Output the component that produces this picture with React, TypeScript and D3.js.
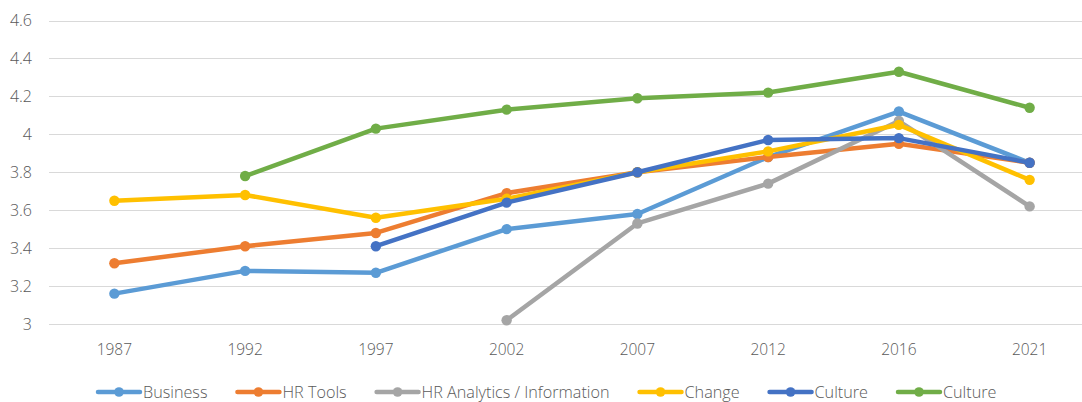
import React, { useRef, useEffect } from "react";
import * as d3 from "d3";

const years = ["1987", "1992", "1997", "2002", "2007", "2012", "2016", "2021"];
const yTicks = [3, 3.2, 3.4, 3.6, 3.8, 4, 4.2, 4.4, 4.6];

const business = [3.16, 3.28, 3.27, 3.5, 3.58, 3.88, 4.12, 3.85];
const hrTools = [3.32, 3.41, 3.48, 3.69, 3.8, 3.88, 3.95, 3.85];
const hrAnalytics = [null, null, null, 3.02, 3.53, 3.74, 4.07, 3.62];
const change = [3.65, 3.68, 3.56, 3.66, 3.8, 3.91, 4.05, 3.76];
const cultureBlue = [null, null, 3.41, 3.64, 3.8, 3.97, 3.98, 3.85];
const cultureGreen = [null, 3.78, 4.03, 4.13, 4.19, 4.22, 4.33, 4.14];

const seriesNames = ["Business", "HR Tools", "HR Analytics / Information", "Change", "Culture", "Culture"];
const seriesColors = ["#5B9BD5", "#ED7D31", "#A5A5A5", "#FFC000", "#4472C4", "#70AD47"];
const seriesValues = [business, hrTools, hrAnalytics, change, cultureBlue, cultureGreen];

const W = 1082;
const H = 402;

const App = () => {
  const svgRef = useRef<SVGSVGElement>(null);

  useEffect(() => {
    const svg = d3.select(svgRef.current);
    svg.selectAll("*").remove();
    const font = "'Open Sans', sans-serif";
    const textColor = "#595959";

    const x = d3.scaleBand().domain(years).range([49, 1095]);
    const y = d3.scaleLinear().domain([3, 4.6]).range([324, 20.5]);
    const cx = (d: string) => (x(d) as number) + x.bandwidth() / 2;

    // gridlines
    svg.append("g")
      .selectAll("line")
      .data(yTicks)
      .join("line")
      .attr("x1", 49)
      .attr("x2", W)
      .attr("y1", (d) => Math.round(y(d)) + 0.5)
      .attr("y2", (d) => Math.round(y(d)) + 0.5)
      .attr("stroke", "#d9d9d9")
      .attr("stroke-width", 1.2);

    // y labels
    svg.append("g")
      .selectAll("text")
      .data(yTicks)
      .join("text")
      .attr("x", 32)
      .attr("y", (d) => y(d) + 5.5)
      .attr("text-anchor", "end")
      .attr("font-family", font)
      .attr("font-weight", 300)
      .attr("font-size", 16)
      .attr("fill", textColor)
      .text((d) => String(d));

    // x labels
    svg.append("g")
      .selectAll("text")
      .data(years)
      .join("text")
      .attr("x", (d) => cx(d))
      .attr("y", 355)
      .attr("text-anchor", "middle")
      .attr("font-family", font)
      .attr("font-weight", 300)
      .attr("font-size", 15.5)
      .attr("fill", textColor)
      .text((d) => d);

    const line = d3.line<number | null>()
      .defined((d) => d != null)
      .x((_, i) => cx(years[i]))
      .y((d) => y(d as number));

    seriesValues.forEach((vals, si) => {
      const g = svg.append("g");
      g.append("path")
        .attr("d", line(vals))
        .attr("fill", "none")
        .attr("stroke", seriesColors[si])
        .attr("stroke-width", 4.5)
        .attr("stroke-linejoin", "round")
        .attr("stroke-linecap", "round");
      g.selectAll("circle")
        .data(vals.map((v, i) => ({ v, i })).filter((p) => p.v != null))
        .join("circle")
        .attr("cx", (p) => cx(years[p.i]))
        .attr("cy", (p) => y(p.v as number))
        .attr("r", 5.2)
        .attr("fill", seriesColors[si]);
    });

    // legend
    const legend = svg.append("g");
    let lx = 96;
    const ly = 392;
    seriesNames.forEach((name, i) => {
      const item = legend.append("g");
      item.append("line")
        .attr("x1", lx + 2)
        .attr("x2", lx + 44)
        .attr("y1", ly)
        .attr("y2", ly)
        .attr("stroke", seriesColors[i])
        .attr("stroke-width", 4.5)
        .attr("stroke-linecap", "round");
      item.append("circle")
        .attr("cx", lx + 23)
        .attr("cy", ly)
        .attr("r", 4.8)
        .attr("fill", seriesColors[i]);
      const t = item.append("text")
        .attr("x", lx + 47)
        .attr("y", ly + 5.5)
        .attr("font-family", font)
        .attr("font-weight", 300)
        .attr("font-size", 16.2)
        .attr("fill", textColor)
        .text(name);
      const tw = (t.node() as SVGTextElement).getComputedTextLength();
      lx += 47 + tw + 28;
    });
  }, []);

  return (
    <svg
      ref={svgRef}
      width={W}
      height={H}
      style={{ position: "absolute", left: 0, top: 0, background: "#fff" }}
    />
  );
};

export default App;
